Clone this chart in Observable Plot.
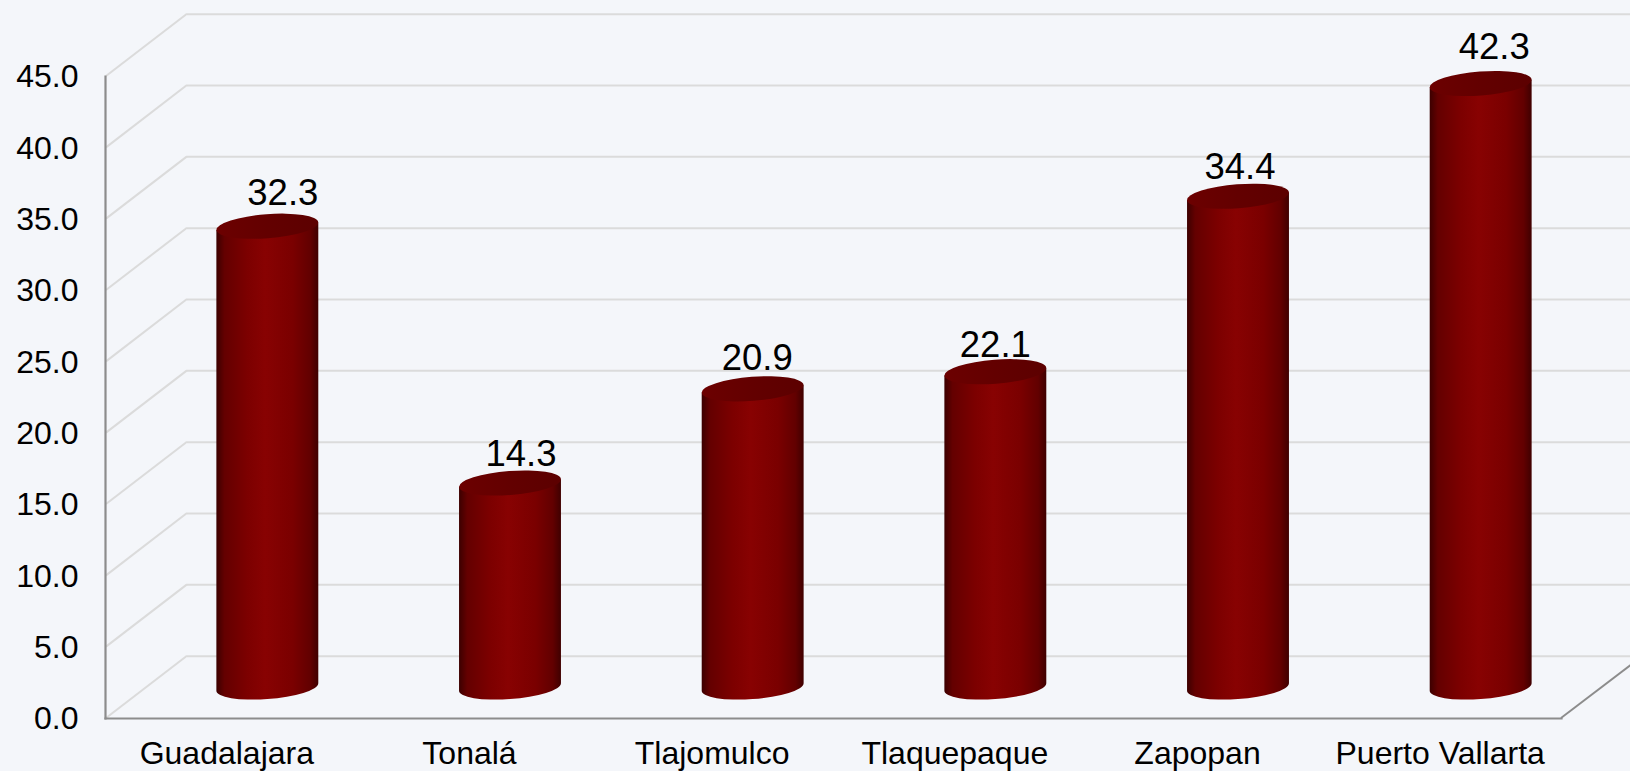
<!DOCTYPE html>
<html>
<head>
<meta charset="utf-8">
<script src="https://cdn.jsdelivr.net/npm/d3@7"></script>
<script src="https://cdn.jsdelivr.net/npm/@observablehq/plot@0.6"></script>
<style>
  html, body { margin: 0; padding: 0; background: #f4f6fa; }
  svg { display: block; }
</style>
</head>
<body>
<div id="chart"></div>
<script>
const municipios = ["Guadalajara", "Tonalá", "Tlajomulco", "Tlaquepaque", "Zapopan", "Puerto Vallarta"];
const valores = [32.3, 14.3, 20.9, 22.1, 34.4, 42.3];
const yTicks = [0, 5, 10, 15, 20, 25, 30, 35, 40, 45];

// drawing style only
const depthX = 82, depthY = -62.3;          // back wall offset
const barDx = 41, barDy = -31;              // cylinder sits mid-depth
const labelDx = [56, 51.5, 45, 40.5, 42.5, 54];
const labelDy = [-64, -60, -62.5, -57.5, -60.5, -67.5];
const sans = "Arial, 'Liberation Sans', sans-serif";
const gridColor = "#dbdbdb", axisColor = "#8c8c8c";

const filas = municipios.map((m, i) => ({municipio: m, valor: valores[i]}));

function cylinders(index, scales, values, dimensions, context, next) {
  const g = next(index, scales, values, dimensions, context);
  d3.select(g).selectAll("rect").each(function() {
    const r = d3.select(this);
    const x = +r.attr("x"), y = +r.attr("y"), w = +r.attr("width"), h = +r.attr("height");
    const rx = w / 2 * 1.002, ry = 12, rot = -4.4, ty = 3.7;
    const parent = d3.select(this.parentNode);
    const bot = y + h;
    parent.insert("path", () => this)
      .attr("fill", "url(#cyl)")
      .attr("d", `M${x},${y + ty}L${x},${bot + ty}A${rx},${ry} ${rot} 0 0 ${x + w},${bot - ty}L${x + w},${y - ty}Z`);
    parent.insert("ellipse", () => this)
      .attr("fill", "url(#cap)")
      .attr("cx", x + w / 2).attr("cy", y).attr("rx", rx).attr("ry", ry)
      .attr("transform", `rotate(${rot} ${x + w / 2} ${y})`);
    r.remove();
  });
  return g;
}

function depthLines(index, {y}, values, {marginLeft, width, marginRight}) {
  const g = d3.create("svg:g").attr("fill", "none");
  for (const t of yTicks) {
    g.append("line")
      .attr("x1", marginLeft + 1).attr("y1", y(t))
      .attr("x2", marginLeft + depthX).attr("y2", y(t) + depthY)
      .attr("stroke", gridColor).attr("stroke-width", 2);
  }
  g.append("line")
    .attr("x1", width - marginRight).attr("y1", y(0))
    .attr("x2", width - marginRight + depthX).attr("y2", y(0) + depthY)
    .attr("stroke", axisColor).attr("stroke-width", 2);
  return g.node();
}

const chart = Plot.plot({
  width: 1630,
  height: 771,
  marginLeft: 105,
  marginRight: 69,
  marginTop: 76,
  marginBottom: 53,
  style: {background: "#f4f6fa", color: "#000", fontFamily: sans},
  x: {type: "band", domain: municipios, paddingInner: 0.58, paddingOuter: 0.29, round: false, label: null},
  y: {domain: [0, 45], label: null},
  marks: [
    Plot.ruleY(yTicks, {y: d => d, dx: depthX, dy: depthY, stroke: gridColor, strokeWidth: 2}),
    depthLines,
    Plot.frame({anchor: "left", stroke: axisColor, strokeWidth: 2.2}),
    Plot.frame({anchor: "bottom", stroke: axisColor, strokeWidth: 2.2}),
    Plot.axisY(yTicks, {
      anchor: "left", tickSize: 0, tickPadding: 27, fontSize: 32, dy: 0.5,
      fontFamily: sans, tickFormat: d => d.toFixed(1), label: null
    }),
    Plot.axisX({
      anchor: "bottom", tickSize: 0, tickPadding: 23, fontSize: 32,
      fontFamily: sans, label: null
    }),
    Plot.barY(filas, {x: "municipio", y: "valor", dx: barDx, dy: barDy, fill: "url(#cyl)", render: cylinders}),
    ...filas.map((f, i) => Plot.text([f], {
      x: "municipio", y: "valor", text: d => d.valor.toFixed(1),
      dx: labelDx[i], dy: labelDy[i], fontSize: 36.5, fontFamily: sans, fill: "#000"
    }))
  ]
});

const defs = d3.select(chart).insert("defs", ":first-child");
const cyl = defs.append("linearGradient").attr("id", "cyl");
[[0, "#3c0000"], [0.08, "#640000"], [0.3, "#7c0000"], [0.48, "#880202"], [0.75, "#7a0000"], [0.92, "#620000"], [1, "#3f0000"]]
  .forEach(([o, c]) => cyl.append("stop").attr("offset", o).attr("stop-color", c));
const cap = defs.append("linearGradient").attr("id", "cap");
[[0, "#6c0000"], [0.5, "#630000"], [1, "#5c0000"]]
  .forEach(([o, c]) => cap.append("stop").attr("offset", o).attr("stop-color", c));

document.getElementById("chart").append(chart);
</script>
</body>
</html>
